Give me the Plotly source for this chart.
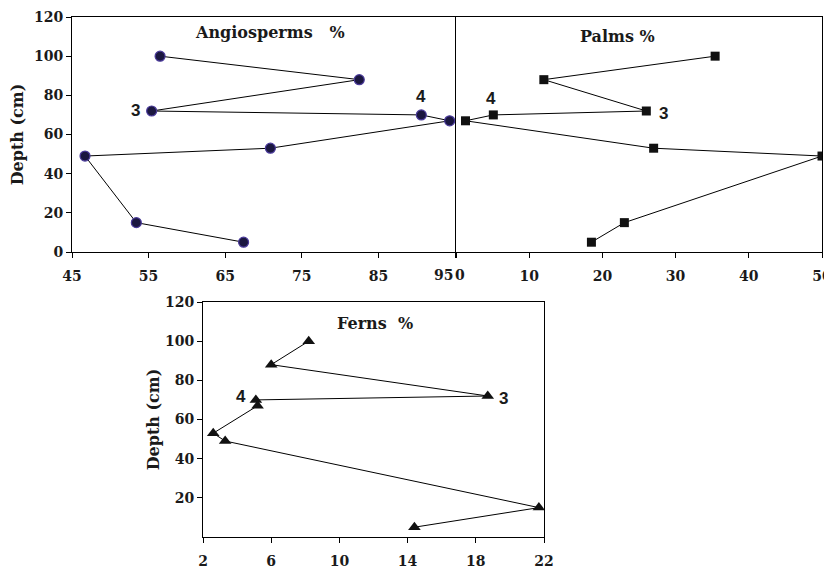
import plotly.graph_objects as go

# ---- data ----
depth = [100, 88, 72, 70, 67, 53, 49, 15, 5]
angiosperms = [56.5, 82.5, 55.4, 90.6, 94.3, 70.9, 46.7, 53.4, 67.4]
palms = [35.4, 12.0, 26.0, 5.1, 1.3, 27.0, 50.0, 23.0, 18.5]
ferns = [8.2, 6.0, 18.7, 5.1, 5.2, 2.6, 3.3, 21.7, 14.4]

angio_ticks = [45, 55, 65, 75, 85, 95]
angio_ticktext = ["45", "55", "65", "75", "85", ""]
palm_ticks = [0, 10, 20, 30, 40, 50]
palm_ticktext = ["", "10", "20", "30", "40", "50"]
fern_ticks = [2, 6, 10, 14, 18, 22]
depth_ticks = [0, 20, 40, 60, 80, 100, 120]
fern_depth_ticks = [20, 40, 60, 80, 100, 120]

# page has an 8px body margin: figure is drawn offset by 8px
OFF = 8
W, H = 832 - OFF, 572 - OFF
serif = "DejaVu Serif"
sans = "Liberation Sans"
txt = "#1a1a1a"

fig = go.Figure()

line = dict(color="black", width=1)
fig.add_trace(go.Scatter(x=angiosperms, y=depth, mode="lines+markers", line=line,
                         marker=dict(symbol="circle", size=10, color="#1b1740",
                                     line=dict(color="#4a3a9a", width=1.2)),
                         xaxis="x", yaxis="y", showlegend=False))
fig.add_trace(go.Scatter(x=palms, y=depth, mode="lines+markers", line=line,
                         marker=dict(symbol="square", size=9, color="#111111"),
                         xaxis="x2", yaxis="y2", showlegend=False))
fig.add_trace(go.Scatter(x=ferns, y=depth, mode="lines+markers", line=line,
                         marker=dict(symbol="triangle-up", size=11, color="#111111"),
                         xaxis="x3", yaxis="y3", showlegend=False))

def px_x(p):
    return (p - OFF) / W

def px_y(p):
    return 1 - (p - OFF) / H

tickfont = dict(family=serif, size=14, color=txt, weight="bold")
titlefont = dict(family=serif, size=16, color=txt, weight="bold")
common = dict(showline=True, linecolor="black", linewidth=1, mirror=True,
              ticklen=5, tickcolor="black", showgrid=False,
              zeroline=False, automargin=False, tickfont=tickfont)

fig.update_layout(
    width=W, height=H,
    margin=dict(l=0, r=0, t=0, b=0),
    paper_bgcolor="white", plot_bgcolor="white",
    xaxis=dict(domain=[px_x(72), px_x(455)], range=[45, 95], tickmode="array",
               tickvals=angio_ticks, ticktext=angio_ticktext, ticks="outside",
               anchor="y", ticklabelstandoff=6, **common),
    yaxis=dict(domain=[px_y(252), px_y(17)], range=[0, 120], tickvals=depth_ticks,
               anchor="x", ticks="outside",
               title=dict(text="Depth (cm)", font=titlefont, standoff=6),
               **common),
    xaxis2=dict(domain=[px_x(456), px_x(822)], range=[0, 50], tickmode="array",
                tickvals=palm_ticks, ticktext=palm_ticktext, ticks="outside",
                anchor="y2", ticklabelstandoff=6, **common),
    yaxis2=dict(domain=[px_y(252), px_y(17)], range=[0, 120], anchor="x2",
                showticklabels=False, ticks="", **common),
    xaxis3=dict(domain=[px_x(203), px_x(544)], range=[2, 22], tickvals=fern_ticks,
                anchor="y3", ticklabelstandoff=6, ticks="outside", **common),
    yaxis3=dict(domain=[px_y(537), px_y(302)], range=[0, 120], tickvals=fern_depth_ticks,
                anchor="x3", ticks="outside",
                title=dict(text="Depth (cm)", font=titlefont, standoff=1),
                **common),
)

annos = []
# the abutting "95" / "0" tick labels, nudged apart as in the original
annos.append(dict(text=str(angio_ticks[-1]), x=px_x(443), y=px_y(275), xref="paper", yref="paper",
                  showarrow=False, xanchor="center", yanchor="middle", font=tickfont))
annos.append(dict(text=str(palm_ticks[0]), x=px_x(460), y=px_y(275), xref="paper", yref="paper",
                  showarrow=False, xanchor="center", yanchor="middle", font=tickfont))

def title_anno(text, x, y, xr, yr):
    annos.append(dict(text=text, x=x, y=y, xref=xr, yref=yr, showarrow=False,
                      font=titlefont))

title_anno("Angiosperms&nbsp;&nbsp;&nbsp;%", 70.8, 112, "x", "y")
title_anno("Palms %", 22.1, 110, "x2", "y2")
title_anno("Ferns&nbsp;&nbsp;%", 12.1, 109, "x3", "y3")

def num_anno(text, x, y, xr, yr, xs, ys):
    annos.append(dict(text=text, x=x, y=y, xref=xr, yref=yr, showarrow=False,
                      xshift=xs, yshift=ys,
                      font=dict(family=sans, size=17, color=txt, weight="bold")))

num_anno("3", angiosperms[2], depth[2], "x", "y", -16, 1)
num_anno("4", angiosperms[3], depth[3], "x", "y", 0, 18)
num_anno("4", palms[3], depth[3], "x2", "y2", -2, 16)
num_anno("3", palms[2], depth[2], "x2", "y2", 17, -2)
num_anno("4", ferns[3], depth[3], "x3", "y3", -15, 3)
num_anno("3", ferns[2], depth[2], "x3", "y3", 16, -2)

fig.update_layout(annotations=annos)

fig.write_html("out.html")
